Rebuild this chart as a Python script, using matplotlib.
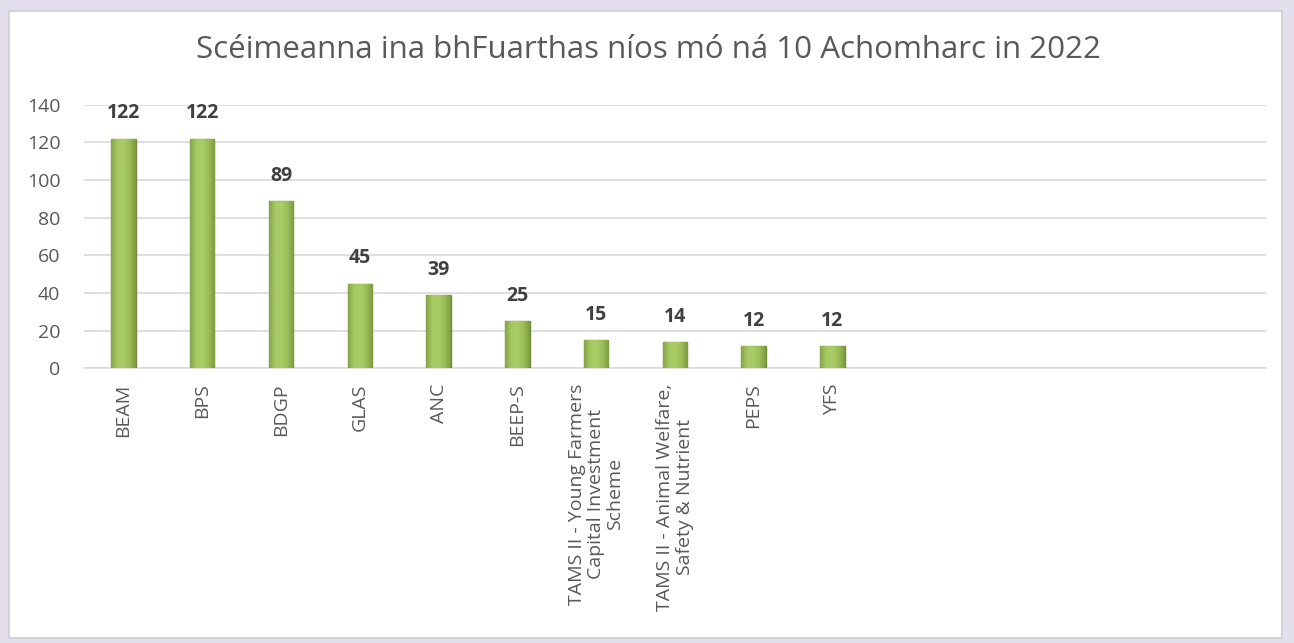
import numpy as np
import matplotlib.pyplot as plt
from matplotlib.patches import FancyBboxPatch
from matplotlib.colors import LinearSegmentedColormap

# Data
schemes = ['BEAM', 'BPS', 'BDGP', 'GLAS', 'ANC', 'BEEP-S',
           'TAMS II - Young Farmers\nCapital Investment\nScheme',
           'TAMS II - Animal Welfare,\nSafety & Nutrient',
           'PEPS', 'YFS', '', '', '', '', '']
appeals = [122, 122, 89, 45, 39, 25, 15, 14, 12, 12]
y_ticks = [0, 20, 40, 60, 80, 100, 120, 140]
title = 'Scéimeanna ina bhFuarthas níos mó ná 10 Achomharc in 2022'

plt.rcParams['font.family'] = ['Open Sans', 'DejaVu Sans']

fig = plt.figure(figsize=(12.94, 6.43), dpi=100)
fig.patch.set_facecolor('#E4DFEC')

# white chart area
bg = FancyBboxPatch((0.007, 0.008), 0.984, 0.975, boxstyle='square,pad=0',
                    transform=fig.transFigure, facecolor='white',
                    edgecolor='#D0CCD6', linewidth=1.2, zorder=-5)
fig.patches.append(bg)

ax = fig.add_axes([0.065, 0.427, 0.913, 0.41])
ax.set_facecolor('none')
ax.set_zorder(2)

x = list(range(len(appeals)))
bars = ax.bar(x, appeals, width=0.31, color='#9BBB59', edgecolor='#6F8B3A',
              linewidth=1.0, zorder=3)

# bevelled look: horizontal gradient clipped to each bar
shade = LinearSegmentedColormap.from_list(
    'bevel', ['#86A546', '#A6C964', '#A9CC67', '#9BBD58', '#7D9B3F'])
grad = np.linspace(0, 1, 64).reshape(1, -1)
for bar in bars:
    x0, w, h = bar.get_x(), bar.get_width(), bar.get_height()
    im = ax.imshow(grad, extent=[x0, x0 + w, 0, h], aspect='auto',
                   cmap=shade, zorder=3.5, interpolation='bicubic')
    im.set_clip_path(bar)

for bar, val in zip(bars, appeals):
    ax.annotate(f'{val}', (bar.get_x() + bar.get_width() / 2, val),
                xytext=(0, 11), textcoords='offset points',
                ha='center', va='bottom', fontsize=14, fontweight='bold',
                color='#404040')

ax.set_xlim(-0.5, len(schemes) - 0.5)
ax.set_ylim(0, 140)
ax.set_yticks(y_ticks)
ax.set_xticks(range(len(schemes)))
ax.set_xticklabels(schemes, rotation=90, ha='center', va='top',
                   multialignment='center', fontsize=14, color='#595959',
                   linespacing=1.1)
ax.tick_params(axis='y', labelsize=14, labelcolor='#595959', length=0, pad=17)
ax.tick_params(axis='x', length=0, pad=11)

ax.grid(axis='y', color='#D9D9D9', linewidth=1.2, zorder=0)
for s in ['top', 'right', 'left']:
    ax.spines[s].set_visible(False)
ax.spines['bottom'].set_color('#D9D9D9')
ax.spines['bottom'].set_linewidth(1.2)

fig.text(0.501, 0.922, title, ha='center', va='center', fontsize=22.5,
         color='#595959')

plt.savefig('out.png', dpi=100, facecolor=fig.get_facecolor())
